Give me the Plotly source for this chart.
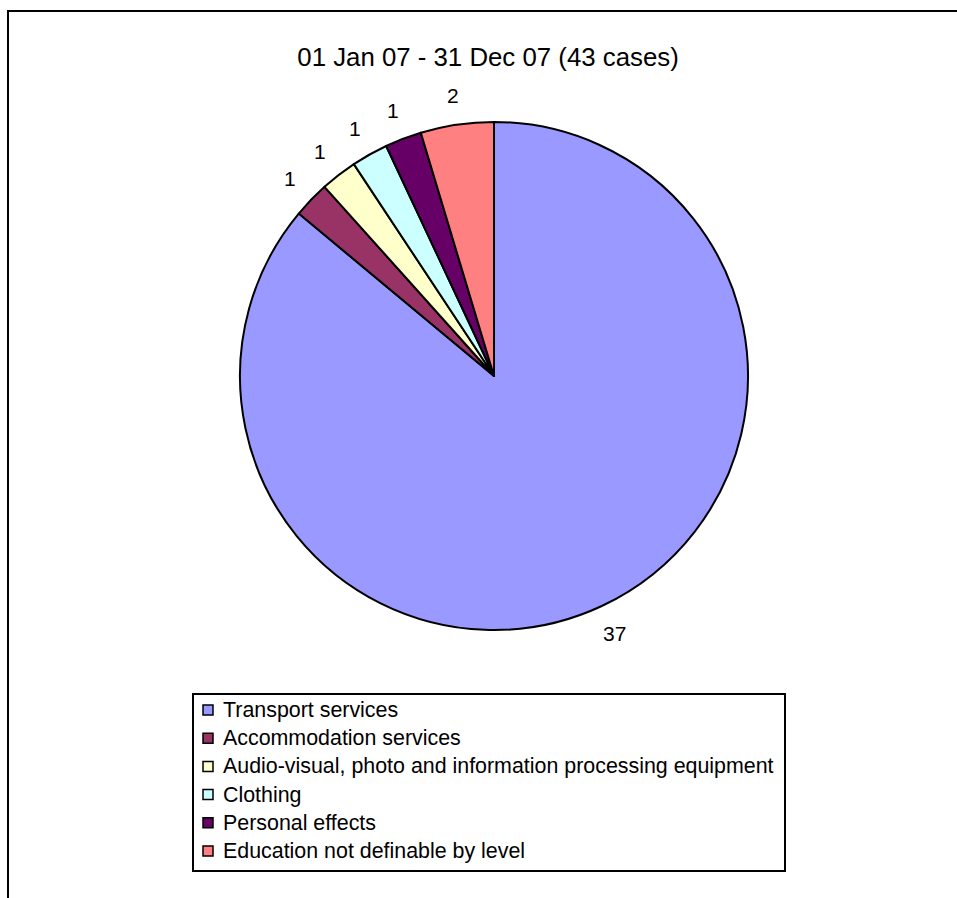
import math
import plotly.graph_objects as go

# Cases by category, 01 Jan 07 - 31 Dec 07
categories = [
    "Transport services",
    "Accommodation services",
    "Audio-visual, photo and information processing equipment",
    "Clothing",
    "Personal effects",
    "Education not definable by level",
]
cases = [37, 1, 1, 1, 1, 2]
colors = ["#9999FF", "#993366", "#FFFFCC", "#CCFFFF", "#660066", "#FF8080"]

FONT = "Liberation Sans, Arial, sans-serif"
W, H = 957, 898
cx, cy, r = 494, 376, 254


def px(x):
    return x / W


def py(y):
    return 1 - y / H


fig = go.Figure(
    go.Pie(
        labels=categories,
        values=cases,
        sort=False,
        direction="clockwise",
        rotation=0,
        marker=dict(colors=colors, line=dict(color="black", width=2)),
        textinfo="none",
        showlegend=False,
        domain=dict(x=[px(cx - r), px(cx + r)], y=[py(cy + r), py(cy - r)]),
        hoverinfo="label+value",
    )
)

annotations = []
shapes = []

# value labels just outside each slice, at the slice's mid angle
total = sum(cases)
cum = 0
label_dist = r + 30
for v in cases:
    mid = (cum + v / 2) / total * 2 * math.pi
    cum += v
    annotations.append(
        dict(
            x=px(cx + label_dist * math.sin(mid)),
            y=py(cy - label_dist * math.cos(mid)),
            xref="paper", yref="paper",
            text=str(v), showarrow=False,
            xanchor="center", yanchor="middle",
            font=dict(size=21, color="black", family=FONT),
        )
    )

# legend box
lx0, lx1, ly0, ly1 = 193, 785, 694, 871
shapes.append(
    dict(type="rect", xref="paper", yref="paper",
         x0=px(lx0), x1=px(lx1), y0=py(ly1), y1=py(ly0),
         line=dict(color="black", width=2), fillcolor="white")
)
row0, row_step = 710, 28.2
for i, (name, col) in enumerate(zip(categories, colors)):
    yc = row0 + i * row_step
    shapes.append(
        dict(type="rect", xref="paper", yref="paper",
             x0=px(203), x1=px(213), y0=py(yc + 5), y1=py(yc - 5),
             line=dict(color="black", width=1.5), fillcolor=col)
    )
    annotations.append(
        dict(x=px(221), y=py(yc), xref="paper", yref="paper",
             text=name, showarrow=False, xanchor="left", yanchor="middle",
             font=dict(size=21.4, color="black", family=FONT))
    )

# outer chart frame
shapes.append(
    dict(type="rect", xref="paper", yref="paper",
         x0=px(8), x1=1.01, y0=-0.01, y1=py(11),
         line=dict(color="black", width=2), fillcolor="rgba(0,0,0,0)", layer="below")
)

fig.update_layout(
    width=W,
    height=H,
    margin=dict(l=0, r=0, t=0, b=0),
    paper_bgcolor="white",
    font=dict(family=FONT, color="black"),
    title=dict(
        text="01 Jan 07 - 31 Dec 07 (43 cases)",
        x=px(488),
        xanchor="center",
        y=py(57),
        yanchor="middle",
        font=dict(size=25.8, color="black", family=FONT),
    ),
    shapes=shapes,
    annotations=annotations,
)

fig.write_html("out.html")
